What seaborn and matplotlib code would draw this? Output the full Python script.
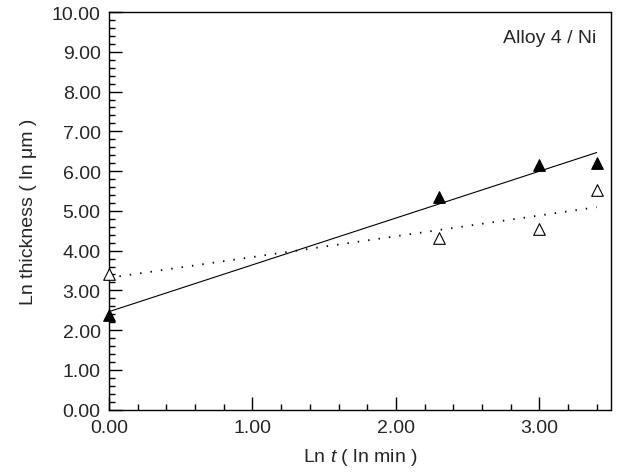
import matplotlib
matplotlib.use("Agg")
import matplotlib.pyplot as plt
import seaborn as sns
import pandas as pd
from matplotlib.ticker import MultipleLocator, FormatStrFormatter

ln_t = [0.0, 2.30, 3.00, 3.40]
filled_thickness = [2.39, 5.35, 6.15, 6.21]
open_thickness = [3.42, 4.32, 4.55, 5.52]
annotation = "Alloy 4 / Ni"

sns.set_style("ticks")
plt.rcParams["font.family"] = ["Liberation Sans", "DejaVu Sans"]
plt.rcParams["mathtext.fontset"] = "custom"
plt.rcParams["mathtext.it"] = "Liberation Sans:italic"
plt.rcParams["mathtext.rm"] = "Liberation Sans"

df = pd.DataFrame({"ln_t": ln_t, "filled": filled_thickness, "open": open_thickness})

fig = plt.figure(figsize=(6.18, 4.77), dpi=100)
ax = fig.add_axes([0.1764, 0.139, 0.8123, 0.8337])

sns.regplot(data=df, x="ln_t", y="filled", ax=ax, ci=None, marker="^",
            scatter_kws=dict(s=70, color="black", edgecolors="black", linewidths=0.8,
                             alpha=1, zorder=3, clip_on=False),
            line_kws=dict(color="black", linewidth=0.8, linestyle="-"))
sns.regplot(data=df, x="ln_t", y="open", ax=ax, ci=None, marker="^",
            scatter_kws=dict(s=70, facecolors="white", edgecolors="black", linewidths=0.8,
                             alpha=1, zorder=3, clip_on=False),
            line_kws=dict(color="black", linewidth=1.3, linestyle=(0, (0.8, 5))))

ax.set_xlim(0, 3.5)
ax.set_ylim(0, 10)
ax.xaxis.set_major_locator(MultipleLocator(1))
ax.xaxis.set_minor_locator(MultipleLocator(0.2))
ax.yaxis.set_major_locator(MultipleLocator(1))
ax.yaxis.set_minor_locator(MultipleLocator(0.2))
ax.xaxis.set_major_formatter(FormatStrFormatter("%.2f"))
ax.yaxis.set_major_formatter(FormatStrFormatter("%.2f"))
ax.tick_params(which="both", direction="in", labelsize=14, width=1, color="black")
ax.tick_params(which="major", length=9.5)
ax.tick_params(which="minor", length=4.5)
ax.tick_params(axis="y", which="major", pad=6)
ax.tick_params(axis="x", which="major", pad=7)
for sp in ax.spines.values():
    sp.set_linewidth(1)
    sp.set_color("black")
    sp.set_visible(True)

ax.set_xlabel("Ln $t$ ( ln min )", fontsize=14, labelpad=7)
ax.set_ylabel("Ln thickness ( ln μm )", fontsize=14, labelpad=11)
ax.text(0.97, 0.937, annotation, transform=ax.transAxes, ha="right", va="center", fontsize=14)

fig.savefig("out.png", dpi=100)
